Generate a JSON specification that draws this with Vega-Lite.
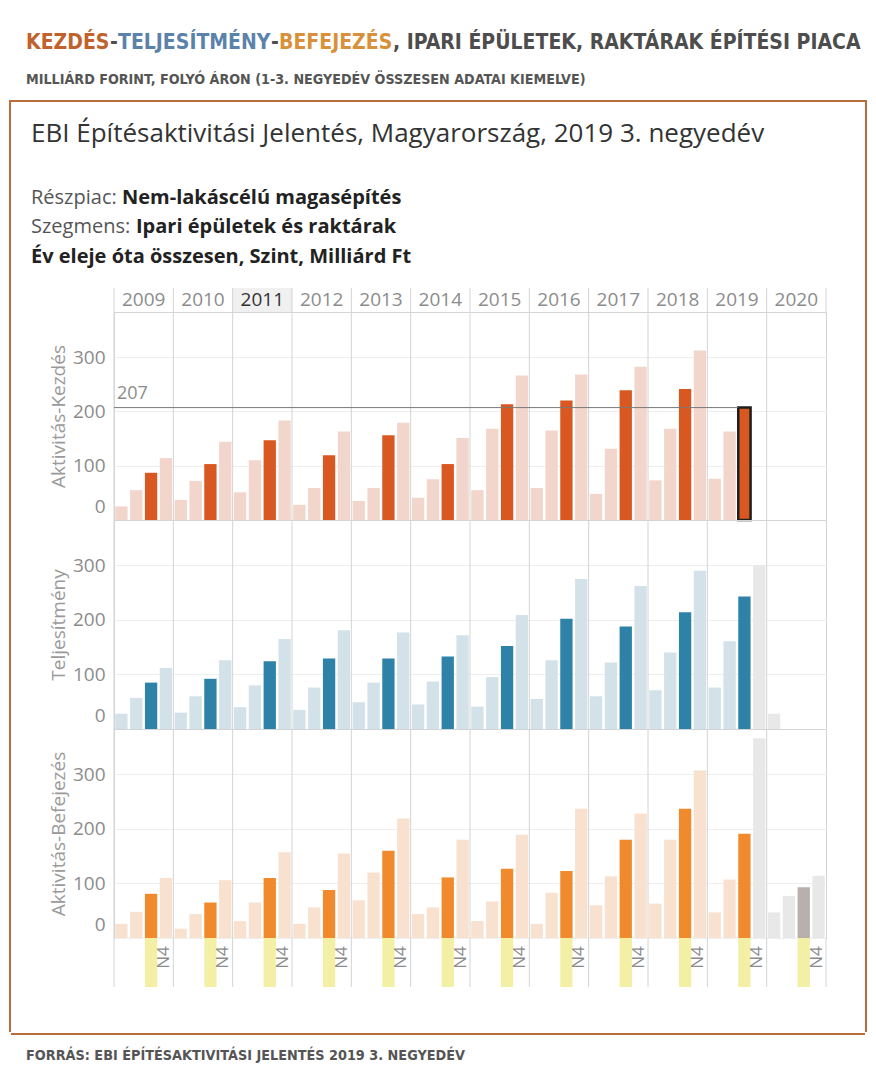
{
"$schema": "https://vega.github.io/schema/vega-lite/v6.json",
"background": "white",
"padding": {"left": 9, "top": 32, "right": 0, "bottom": 0},
"config": {"view": {"stroke": null}, "font": "Open Sans"},
"datasets": {
"years": [{"year":2009},{"year":2010},{"year":2011},{"year":2012},{"year":2013},{"year":2014},{"year":2015},{"year":2016},{"year":2017},{"year":2018},{"year":2019},{"year":2020}],
"bars": [
{"m":"Kezdés","year":2009,"q":"N1","v":25,"kind":"tény"},{"m":"Kezdés","year":2009,"q":"N2","v":55,"kind":"tény"},{"m":"Kezdés","year":2009,"q":"N3","v":87,"kind":"tény"},{"m":"Kezdés","year":2009,"q":"N4","v":114,"kind":"tény"},
{"m":"Kezdés","year":2010,"q":"N1","v":37,"kind":"tény"},{"m":"Kezdés","year":2010,"q":"N2","v":72,"kind":"tény"},{"m":"Kezdés","year":2010,"q":"N3","v":103,"kind":"tény"},{"m":"Kezdés","year":2010,"q":"N4","v":144,"kind":"tény"},
{"m":"Kezdés","year":2011,"q":"N1","v":51,"kind":"tény"},{"m":"Kezdés","year":2011,"q":"N2","v":110,"kind":"tény"},{"m":"Kezdés","year":2011,"q":"N3","v":147,"kind":"tény"},{"m":"Kezdés","year":2011,"q":"N4","v":183,"kind":"tény"},
{"m":"Kezdés","year":2012,"q":"N1","v":28,"kind":"tény"},{"m":"Kezdés","year":2012,"q":"N2","v":59,"kind":"tény"},{"m":"Kezdés","year":2012,"q":"N3","v":119,"kind":"tény"},{"m":"Kezdés","year":2012,"q":"N4","v":163,"kind":"tény"},
{"m":"Kezdés","year":2013,"q":"N1","v":35,"kind":"tény"},{"m":"Kezdés","year":2013,"q":"N2","v":59,"kind":"tény"},{"m":"Kezdés","year":2013,"q":"N3","v":156,"kind":"tény"},{"m":"Kezdés","year":2013,"q":"N4","v":179,"kind":"tény"},
{"m":"Kezdés","year":2014,"q":"N1","v":41,"kind":"tény"},{"m":"Kezdés","year":2014,"q":"N2","v":75,"kind":"tény"},{"m":"Kezdés","year":2014,"q":"N3","v":103,"kind":"tény"},{"m":"Kezdés","year":2014,"q":"N4","v":151,"kind":"tény"},
{"m":"Kezdés","year":2015,"q":"N1","v":55,"kind":"tény"},{"m":"Kezdés","year":2015,"q":"N2","v":168,"kind":"tény"},{"m":"Kezdés","year":2015,"q":"N3","v":213,"kind":"tény"},{"m":"Kezdés","year":2015,"q":"N4","v":266,"kind":"tény"},
{"m":"Kezdés","year":2016,"q":"N1","v":59,"kind":"tény"},{"m":"Kezdés","year":2016,"q":"N2","v":165,"kind":"tény"},{"m":"Kezdés","year":2016,"q":"N3","v":220,"kind":"tény"},{"m":"Kezdés","year":2016,"q":"N4","v":268,"kind":"tény"},
{"m":"Kezdés","year":2017,"q":"N1","v":48,"kind":"tény"},{"m":"Kezdés","year":2017,"q":"N2","v":131,"kind":"tény"},{"m":"Kezdés","year":2017,"q":"N3","v":239,"kind":"tény"},{"m":"Kezdés","year":2017,"q":"N4","v":282,"kind":"tény"},
{"m":"Kezdés","year":2018,"q":"N1","v":73,"kind":"tény"},{"m":"Kezdés","year":2018,"q":"N2","v":168,"kind":"tény"},{"m":"Kezdés","year":2018,"q":"N3","v":241,"kind":"tény"},{"m":"Kezdés","year":2018,"q":"N4","v":312,"kind":"tény"},
{"m":"Kezdés","year":2019,"q":"N1","v":76,"kind":"tény"},{"m":"Kezdés","year":2019,"q":"N2","v":163,"kind":"tény"},{"m":"Kezdés","year":2019,"q":"N3","v":207,"kind":"tény"},
{"m":"Teljesítmény","year":2009,"q":"N1","v":28,"kind":"tény"},{"m":"Teljesítmény","year":2009,"q":"N2","v":57,"kind":"tény"},{"m":"Teljesítmény","year":2009,"q":"N3","v":85,"kind":"tény"},{"m":"Teljesítmény","year":2009,"q":"N4","v":112,"kind":"tény"},
{"m":"Teljesítmény","year":2010,"q":"N1","v":30,"kind":"tény"},{"m":"Teljesítmény","year":2010,"q":"N2","v":60,"kind":"tény"},{"m":"Teljesítmény","year":2010,"q":"N3","v":92,"kind":"tény"},{"m":"Teljesítmény","year":2010,"q":"N4","v":126,"kind":"tény"},
{"m":"Teljesítmény","year":2011,"q":"N1","v":40,"kind":"tény"},{"m":"Teljesítmény","year":2011,"q":"N2","v":80,"kind":"tény"},{"m":"Teljesítmény","year":2011,"q":"N3","v":124,"kind":"tény"},{"m":"Teljesítmény","year":2011,"q":"N4","v":165,"kind":"tény"},
{"m":"Teljesítmény","year":2012,"q":"N1","v":35,"kind":"tény"},{"m":"Teljesítmény","year":2012,"q":"N2","v":76,"kind":"tény"},{"m":"Teljesítmény","year":2012,"q":"N3","v":129,"kind":"tény"},{"m":"Teljesítmény","year":2012,"q":"N4","v":181,"kind":"tény"},
{"m":"Teljesítmény","year":2013,"q":"N1","v":49,"kind":"tény"},{"m":"Teljesítmény","year":2013,"q":"N2","v":85,"kind":"tény"},{"m":"Teljesítmény","year":2013,"q":"N3","v":129,"kind":"tény"},{"m":"Teljesítmény","year":2013,"q":"N4","v":177,"kind":"tény"},
{"m":"Teljesítmény","year":2014,"q":"N1","v":45,"kind":"tény"},{"m":"Teljesítmény","year":2014,"q":"N2","v":87,"kind":"tény"},{"m":"Teljesítmény","year":2014,"q":"N3","v":133,"kind":"tény"},{"m":"Teljesítmény","year":2014,"q":"N4","v":172,"kind":"tény"},
{"m":"Teljesítmény","year":2015,"q":"N1","v":41,"kind":"tény"},{"m":"Teljesítmény","year":2015,"q":"N2","v":95,"kind":"tény"},{"m":"Teljesítmény","year":2015,"q":"N3","v":152,"kind":"tény"},{"m":"Teljesítmény","year":2015,"q":"N4","v":209,"kind":"tény"},
{"m":"Teljesítmény","year":2016,"q":"N1","v":55,"kind":"tény"},{"m":"Teljesítmény","year":2016,"q":"N2","v":126,"kind":"tény"},{"m":"Teljesítmény","year":2016,"q":"N3","v":202,"kind":"tény"},{"m":"Teljesítmény","year":2016,"q":"N4","v":275,"kind":"tény"},
{"m":"Teljesítmény","year":2017,"q":"N1","v":60,"kind":"tény"},{"m":"Teljesítmény","year":2017,"q":"N2","v":122,"kind":"tény"},{"m":"Teljesítmény","year":2017,"q":"N3","v":188,"kind":"tény"},{"m":"Teljesítmény","year":2017,"q":"N4","v":262,"kind":"tény"},
{"m":"Teljesítmény","year":2018,"q":"N1","v":71,"kind":"tény"},{"m":"Teljesítmény","year":2018,"q":"N2","v":140,"kind":"tény"},{"m":"Teljesítmény","year":2018,"q":"N3","v":214,"kind":"tény"},{"m":"Teljesítmény","year":2018,"q":"N4","v":290,"kind":"tény"},
{"m":"Teljesítmény","year":2019,"q":"N1","v":76,"kind":"tény"},{"m":"Teljesítmény","year":2019,"q":"N2","v":161,"kind":"tény"},{"m":"Teljesítmény","year":2019,"q":"N3","v":243,"kind":"tény"},{"m":"Teljesítmény","year":2019,"q":"N4","v":300,"kind":"előrejelzés"},
{"m":"Teljesítmény","year":2020,"q":"N1","v":28,"kind":"előrejelzés"},
{"m":"Befejezés","year":2009,"q":"N1","v":26,"kind":"tény"},{"m":"Befejezés","year":2009,"q":"N2","v":48,"kind":"tény"},{"m":"Befejezés","year":2009,"q":"N3","v":81,"kind":"tény"},{"m":"Befejezés","year":2009,"q":"N4","v":110,"kind":"tény"},
{"m":"Befejezés","year":2010,"q":"N1","v":17,"kind":"tény"},{"m":"Befejezés","year":2010,"q":"N2","v":44,"kind":"tény"},{"m":"Befejezés","year":2010,"q":"N3","v":65,"kind":"tény"},{"m":"Befejezés","year":2010,"q":"N4","v":106,"kind":"tény"},
{"m":"Befejezés","year":2011,"q":"N1","v":31,"kind":"tény"},{"m":"Befejezés","year":2011,"q":"N2","v":65,"kind":"tény"},{"m":"Befejezés","year":2011,"q":"N3","v":110,"kind":"tény"},{"m":"Befejezés","year":2011,"q":"N4","v":157,"kind":"tény"},
{"m":"Befejezés","year":2012,"q":"N1","v":26,"kind":"tény"},{"m":"Befejezés","year":2012,"q":"N2","v":56,"kind":"tény"},{"m":"Befejezés","year":2012,"q":"N3","v":88,"kind":"tény"},{"m":"Befejezés","year":2012,"q":"N4","v":155,"kind":"tény"},
{"m":"Befejezés","year":2013,"q":"N1","v":69,"kind":"tény"},{"m":"Befejezés","year":2013,"q":"N2","v":120,"kind":"tény"},{"m":"Befejezés","year":2013,"q":"N3","v":160,"kind":"tény"},{"m":"Befejezés","year":2013,"q":"N4","v":219,"kind":"tény"},
{"m":"Befejezés","year":2014,"q":"N1","v":44,"kind":"tény"},{"m":"Befejezés","year":2014,"q":"N2","v":56,"kind":"tény"},{"m":"Befejezés","year":2014,"q":"N3","v":111,"kind":"tény"},{"m":"Befejezés","year":2014,"q":"N4","v":180,"kind":"tény"},
{"m":"Befejezés","year":2015,"q":"N1","v":31,"kind":"tény"},{"m":"Befejezés","year":2015,"q":"N2","v":67,"kind":"tény"},{"m":"Befejezés","year":2015,"q":"N3","v":127,"kind":"tény"},{"m":"Befejezés","year":2015,"q":"N4","v":189,"kind":"tény"},
{"m":"Befejezés","year":2016,"q":"N1","v":26,"kind":"tény"},{"m":"Befejezés","year":2016,"q":"N2","v":83,"kind":"tény"},{"m":"Befejezés","year":2016,"q":"N3","v":123,"kind":"tény"},{"m":"Befejezés","year":2016,"q":"N4","v":237,"kind":"tény"},
{"m":"Befejezés","year":2017,"q":"N1","v":60,"kind":"tény"},{"m":"Befejezés","year":2017,"q":"N2","v":113,"kind":"tény"},{"m":"Befejezés","year":2017,"q":"N3","v":180,"kind":"tény"},{"m":"Befejezés","year":2017,"q":"N4","v":228,"kind":"tény"},
{"m":"Befejezés","year":2018,"q":"N1","v":63,"kind":"tény"},{"m":"Befejezés","year":2018,"q":"N2","v":180,"kind":"tény"},{"m":"Befejezés","year":2018,"q":"N3","v":237,"kind":"tény"},{"m":"Befejezés","year":2018,"q":"N4","v":307,"kind":"tény"},
{"m":"Befejezés","year":2019,"q":"N1","v":47,"kind":"tény"},{"m":"Befejezés","year":2019,"q":"N2","v":107,"kind":"tény"},{"m":"Befejezés","year":2019,"q":"N3","v":191,"kind":"tény"},{"m":"Befejezés","year":2019,"q":"N4","v":366,"kind":"előrejelzés"},
{"m":"Befejezés","year":2020,"q":"N1","v":47,"kind":"előrejelzés"},{"m":"Befejezés","year":2020,"q":"N2","v":77,"kind":"előrejelzés"},{"m":"Befejezés","year":2020,"q":"N3","v":93,"kind":"előrejelzés"},{"m":"Befejezés","year":2020,"q":"N4","v":114,"kind":"előrejelzés"}
]
},
"spacing": 0,
"vconcat": [
{"hconcat": [
  {"width": 1, "height": 1, "data": {"values": []}, "mark": "point"},
  {"hconcat": [
    {"width": 1, "height": 18.8, "data": {"values": []}, "mark": "point", "title": {"text": "KEZDÉS", "color": "#c1622d", "font": "DejaVu Sans Condensed, sans-serif", "fontSize": 21, "fontWeight": "bold", "anchor": "start", "offset": 0}},
    {"width": 1, "height": 18.8, "data": {"values": []}, "mark": "point", "title": {"text": "-", "color": "#4d4d4d", "font": "DejaVu Sans Condensed, sans-serif", "fontSize": 21, "fontWeight": "bold", "anchor": "start", "offset": 0}},
    {"width": 1, "height": 18.8, "data": {"values": []}, "mark": "point", "title": {"text": "TELJESÍTMÉNY", "color": "#5b82ab", "font": "DejaVu Sans Condensed, sans-serif", "fontSize": 21, "fontWeight": "bold", "anchor": "start", "offset": 0}},
    {"width": 1, "height": 18.8, "data": {"values": []}, "mark": "point", "title": {"text": "-", "color": "#4d4d4d", "font": "DejaVu Sans Condensed, sans-serif", "fontSize": 21, "fontWeight": "bold", "anchor": "start", "offset": 0}},
    {"width": 1, "height": 18.8, "data": {"values": []}, "mark": "point", "title": {"text": "BEFEJEZÉS", "color": "#d8913a", "font": "DejaVu Sans Condensed, sans-serif", "fontSize": 21, "fontWeight": "bold", "anchor": "start", "offset": 0}},
    {"width": 1, "height": 18.8, "data": {"values": []}, "mark": "point", "title": {"text": ", IPARI ÉPÜLETEK, RAKTÁRAK ÉPÍTÉSI PIACA", "color": "#4d4d4d", "font": "DejaVu Sans Condensed, sans-serif", "fontSize": 21, "fontWeight": "bold", "anchor": "start", "offset": 0}}
  ], "spacing": 0}
], "spacing": 16},
{"hconcat": [
  {"width": 1, "height": 1, "data": {"values": []}, "mark": "point"},
  {"width": 1, "height": 13, "data": {"values": []}, "mark": "point", "title": {"text": "MILLIÁRD FORINT, FOLYÓ ÁRON (1-3. NEGYEDÉV ÖSSZESEN ADATAI KIEMELVE)", "color": "#555555", "font": "DejaVu Sans Condensed, sans-serif", "fontSize": 14.2, "fontWeight": "bold", "anchor": "start", "offset": 0}}
], "spacing": 16},
{"hconcat": [
  {"width": 2, "height": 932, "data": {"values": []}, "mark": "point", "view": {"fill": "#b96c3c"}},
  {"vconcat": [
    {"width": 854, "height": 2, "data": {"values": []}, "mark": "point", "view": {"fill": "#b96c3c"}},
    {"hconcat": [
      {"width": 1, "height": 1, "data": {"values": []}, "mark": "point"},
      {"vconcat": [
        {"width": 1, "height": 18.5, "data": {"values": []}, "mark": "point"},
        {"width": 1, "height": 41, "data": {"values": []}, "mark": "point", "title": {"text": "EBI Építésaktivitási Jelentés, Magyarország, 2019 3. negyedév", "color": "#333333", "font": "Open Sans", "fontSize": 26, "fontWeight": "normal", "anchor": "start", "offset": 0}},
        {"hconcat": [
          {"width": 1, "height": 8.7, "data": {"values": []}, "mark": "point", "title": {"text": "Részpiac:", "color": "#555555", "font": "Open Sans", "fontSize": 20, "fontWeight": "normal", "anchor": "start", "offset": 0}},
          {"width": 1, "height": 8.7, "data": {"values": []}, "mark": "point", "title": {"text": "Nem-lakáscélú magasépítés", "color": "#222222", "font": "Open Sans", "fontSize": 20, "fontWeight": "bold", "anchor": "start", "offset": 0}}
        ], "spacing": 5},
        {"hconcat": [
          {"width": 1, "height": 9.7, "data": {"values": []}, "mark": "point", "title": {"text": "Szegmens:", "color": "#555555", "font": "Open Sans", "fontSize": 20, "fontWeight": "normal", "anchor": "start", "offset": 0}},
          {"width": 1, "height": 9.7, "data": {"values": []}, "mark": "point", "title": {"text": "Ipari épületek és raktárak", "color": "#222222", "font": "Open Sans", "fontSize": 20, "fontWeight": "bold", "anchor": "start", "offset": 0}}
        ], "spacing": 5},
        {"width": 1, "height": 19.1, "data": {"values": []}, "mark": "point", "title": {"text": "Év eleje óta összesen, Szint, Milliárd Ft", "color": "#222222", "font": "Open Sans", "fontSize": 20, "fontWeight": "bold", "anchor": "start", "offset": 0}},
        {"hconcat": [
          {"width": 1, "height": 1, "data": {"values": []}, "mark": "point"},
          {"vconcat": [
            {"width": 712, "height": 24,
             "layer": [
               {"data": {"name": "years"}, "transform": [{"filter": "datum.year == 2011"}], "mark": {"type": "rect", "color": "#f0f0f0"},
                "encoding": {"x": {"field": "year", "type": "ordinal", "axis": null, "scale": {"domain": [2009,2010,2011,2012,2013,2014,2015,2016,2017,2018,2019,2020], "paddingInner": 0, "paddingOuter": 0}}}},
               {"data": {"name": "years"}, "mark": {"type": "rule", "color": "#d4d4d4"},
                "encoding": {"x": {"field": "year", "type": "ordinal", "bandPosition": 0}}},
               {"data": {"name": "years"}, "transform": [{"filter": "datum.year == 2020"}], "mark": {"type": "rule", "color": "#d4d4d4"},
                "encoding": {"x": {"field": "year", "type": "ordinal", "bandPosition": 1}}},
               {"data": {"name": "years"}, "mark": {"type": "text", "font": "Open Sans", "fontSize": 19},
                "encoding": {"x": {"field": "year", "type": "ordinal"}, "text": {"field": "year", "type": "nominal"},
                  "color": {"condition": {"test": "datum.year == 2011", "value": "#333333"}, "value": "#8c8c8c"}}}
             ]},
            {"width": 712, "height": 208, "view": {"stroke": "#d4d4d4"},
             "layer": [
               {"data": {"name": "years"}, "mark": {"type": "rule", "color": "#d4d4d4"},
                "encoding": {"x": {"field": "year", "type": "ordinal", "bandPosition": 0, "axis": null, "scale": {"domain": [2009,2010,2011,2012,2013,2014,2015,2016,2017,2018,2019,2020], "paddingInner": 0, "paddingOuter": 0}}}},
               {"data": {"name": "bars"}, "transform": [{"filter": "datum.m == 'Kezdés'"}], "mark": {"type": "bar", "stroke": "#1e1e1e"},
                "encoding": {
                  "x": {"field": "year", "type": "ordinal"},
                  "xOffset": {"field": "q", "type": "nominal", "scale": {"domain": ["N1","N2","N3","N4"], "paddingInner": 0.17, "paddingOuter": 0.085}},
                  "y": {"field": "v", "type": "quantitative", "title": "Aktivitás-Kezdés", "scale": {"domain": [0, 383], "nice": false},
                    "axis": {"values": [0,100,200,300], "domain": false, "ticks": false, "labelPadding": 9, "labelFontSize": 19, "labelFont": "Open Sans", "labelColor": "#8c8c8c", "labelFlush": true, "labelFlushOffset": -4, "titleFont": "Open Sans", "titleFontSize": 19, "titleFontWeight": "normal", "titleColor": "#9a9a9a", "titlePadding": 4, "grid": true, "gridColor": "#eeeeee"}},
                  "color": {"condition": [
                    {"test": "datum.kind == 'előrejelzés' && datum.q == 'N3'", "value": "#b9b0ad"},
                    {"test": "datum.kind == 'előrejelzés'", "value": "#e8e8e8"},
                    {"test": "datum.q == 'N3'", "value": "#d95822"}], "value": "#f2d6cc"},
                  "strokeWidth": {"condition": {"test": "datum.year == 2019 && datum.q == 'N3'", "value": 2.5}, "value": 0}
                }},
               {"data": {"name": "bars"}, "transform": [{"filter": "datum.m == 'Kezdés' && datum.year == 2019 && datum.q == 'N3'"}], "mark": {"type": "rule", "color": "#7a7a7a", "strokeWidth": 1},
                "encoding": {"x": {"datum": 2009, "type": "ordinal", "bandPosition": 0}, "x2": {"datum": 2019, "bandPosition": 0.521}, "y": {"field": "v", "type": "quantitative", "title": "Aktivitás-Kezdés"}}},
               {"data": {"name": "bars"}, "transform": [{"filter": "datum.m == 'Kezdés' && datum.year == 2019 && datum.q == 'N3'"}], "mark": {"type": "text", "align": "left", "baseline": "alphabetic", "dx": 3, "dy": -9, "font": "Open Sans", "fontSize": 18, "color": "#8c8c8c"},
                "encoding": {"x": {"datum": 2009, "type": "ordinal", "bandPosition": 0}, "y": {"field": "v", "type": "quantitative", "title": "Aktivitás-Kezdés"}, "text": {"field": "v", "type": "nominal"}}}
             ]},
            {"width": 712, "height": 209, "view": {"stroke": "#d4d4d4"},
             "layer": [
               {"data": {"name": "years"}, "mark": {"type": "rule", "color": "#d4d4d4"},
                "encoding": {"x": {"field": "year", "type": "ordinal", "bandPosition": 0, "axis": null, "scale": {"domain": [2009,2010,2011,2012,2013,2014,2015,2016,2017,2018,2019,2020], "paddingInner": 0, "paddingOuter": 0}}}},
               {"data": {"name": "bars"}, "transform": [{"filter": "datum.m == 'Teljesítmény'"}], "mark": {"type": "bar"},
                "encoding": {
                  "x": {"field": "year", "type": "ordinal"},
                  "xOffset": {"field": "q", "type": "nominal", "scale": {"domain": ["N1","N2","N3","N4"], "paddingInner": 0.17, "paddingOuter": 0.085}},
                  "y": {"field": "v", "type": "quantitative", "title": "Teljesítmény", "scale": {"domain": [0, 383], "nice": false},
                    "axis": {"values": [0,100,200,300], "domain": false, "ticks": false, "labelPadding": 9, "labelFontSize": 19, "labelFont": "Open Sans", "labelColor": "#8c8c8c", "labelFlush": true, "labelFlushOffset": -4, "titleFont": "Open Sans", "titleFontSize": 19, "titleFontWeight": "normal", "titleColor": "#9a9a9a", "titlePadding": 4, "grid": true, "gridColor": "#eeeeee"}},
                  "color": {"condition": [
                    {"test": "datum.kind == 'előrejelzés' && datum.q == 'N3'", "value": "#b9b0ad"},
                    {"test": "datum.kind == 'előrejelzés'", "value": "#e8e8e8"},
                    {"test": "datum.q == 'N3'", "value": "#2f82a7"}], "value": "#d3e2e9"}
                }}
             ]},
            {"width": 712, "height": 209, "view": {"stroke": "#d4d4d4"},
             "layer": [
               {"data": {"name": "years"}, "mark": {"type": "rule", "color": "#d4d4d4"},
                "encoding": {"x": {"field": "year", "type": "ordinal", "bandPosition": 0, "axis": null, "scale": {"domain": [2009,2010,2011,2012,2013,2014,2015,2016,2017,2018,2019,2020], "paddingInner": 0, "paddingOuter": 0}}}},
               {"data": {"name": "bars"}, "transform": [{"filter": "datum.m == 'Befejezés'"}], "mark": {"type": "bar"},
                "encoding": {
                  "x": {"field": "year", "type": "ordinal"},
                  "xOffset": {"field": "q", "type": "nominal", "scale": {"domain": ["N1","N2","N3","N4"], "paddingInner": 0.17, "paddingOuter": 0.085}},
                  "y": {"field": "v", "type": "quantitative", "title": "Aktivitás-Befejezés", "scale": {"domain": [0, 383], "nice": false},
                    "axis": {"values": [0,100,200,300], "domain": false, "ticks": false, "labelPadding": 9, "labelFontSize": 19, "labelFont": "Open Sans", "labelColor": "#8c8c8c", "labelFlush": true, "labelFlushOffset": -4, "titleFont": "Open Sans", "titleFontSize": 19, "titleFontWeight": "normal", "titleColor": "#9a9a9a", "titlePadding": 4, "grid": true, "gridColor": "#eeeeee"}},
                  "color": {"condition": [
                    {"test": "datum.kind == 'előrejelzés' && datum.q == 'N3'", "value": "#b9b0ad"},
                    {"test": "datum.kind == 'előrejelzés'", "value": "#e8e8e8"},
                    {"test": "datum.q == 'N3'", "value": "#f08a2d"}], "value": "#f8e2cf"}
                }}
             ]},
            {"width": 712, "height": 49,
             "layer": [
               {"data": {"name": "years"}, "mark": {"type": "rect", "color": "#f3efa4"},
                "encoding": {"x": {"field": "year", "type": "ordinal", "axis": null, "scale": {"domain": [2009,2010,2011,2012,2013,2014,2015,2016,2017,2018,2019,2020], "paddingInner": 0, "paddingOuter": 0}},
                  "xOffset": {"datum": "N3", "type": "nominal", "scale": {"domain": ["N1","N2","N3","N4"], "paddingInner": 0.17, "paddingOuter": 0.085}}}},
               {"data": {"name": "years"}, "mark": {"type": "rule", "color": "#d4d4d4"},
                "encoding": {"x": {"field": "year", "type": "ordinal", "bandPosition": 0}}},
               {"data": {"name": "years"}, "transform": [{"filter": "datum.year == 2020"}], "mark": {"type": "rule", "color": "#d4d4d4"},
                "encoding": {"x": {"field": "year", "type": "ordinal", "bandPosition": 1}}},
               {"data": {"name": "years"}, "mark": {"type": "text", "text": "N4", "angle": 270, "align": "center", "baseline": "middle", "dx": 5, "dy": -2, "font": "Open Sans", "fontSize": 17, "color": "#8c8c8c"},
                "encoding": {"x": {"field": "year", "type": "ordinal"}, "xOffset": {"datum": "N4", "type": "nominal", "bandPosition": 0}}}
             ]}
          ], "spacing": 0, "bounds": "flush"}
        ], "spacing": 16}
      ], "spacing": 0}
    ], "spacing": 19},
    {"width": 1, "height": 44.5, "data": {"values": []}, "mark": "point"},
    {"width": 854, "height": 2, "data": {"values": []}, "mark": "point", "view": {"fill": "#b96c3c"}}
  ], "spacing": 0},
  {"width": 2, "height": 932, "data": {"values": []}, "mark": "point", "view": {"fill": "#b96c3c"}}
], "spacing": 0},
{"width": 1, "height": 13, "data": {"values": []}, "mark": "point"},
{"hconcat": [
  {"width": 1, "height": 1, "data": {"values": []}, "mark": "point"},
  {"width": 1, "height": 1, "data": {"values": []}, "mark": "point", "title": {"text": "FORRÁS: EBI ÉPÍTÉSAKTIVITÁSI JELENTÉS 2019 3. NEGYEDÉV", "color": "#555555", "font": "DejaVu Sans Condensed, sans-serif", "fontSize": 14.3, "fontWeight": "bold", "anchor": "start", "offset": 0}}
], "spacing": 16}
]
}
